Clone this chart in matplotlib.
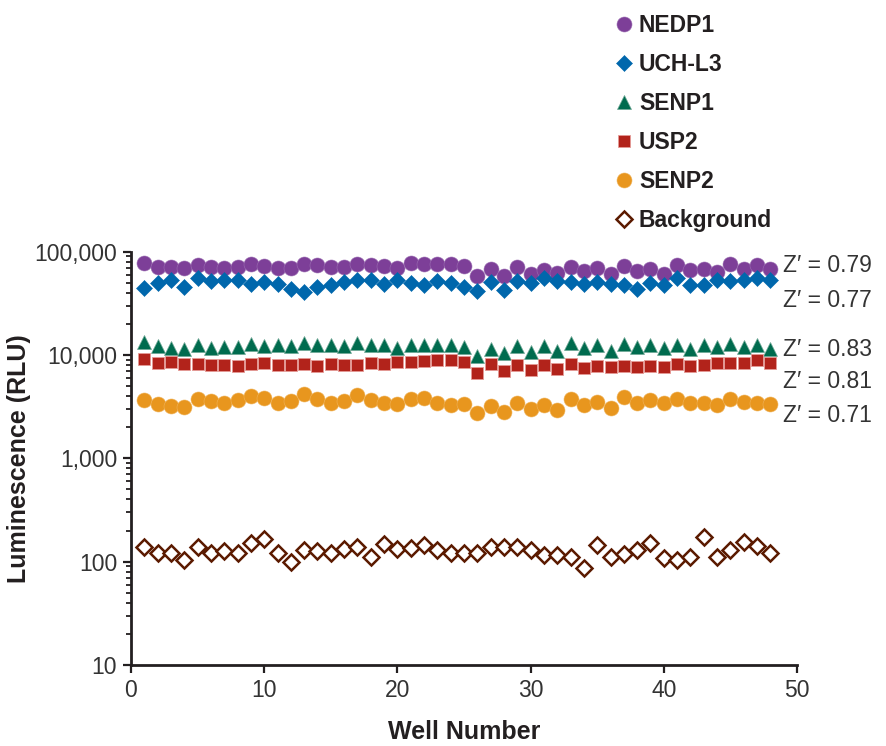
import matplotlib
matplotlib.use("Agg")
import matplotlib.pyplot as plt
from matplotlib import font_manager as fm
from matplotlib.ticker import FuncFormatter, LogLocator, NullFormatter

# ---------------- data ----------------
wells = list(range(1, 49))

nedp1 = [77800, 71100, 71100, 70100, 73800, 71100, 69500, 71100, 75500, 73400,
         70100, 69500, 75500, 74500, 71100, 71100, 75500, 73800, 72300, 70100,
         77800, 75500, 75500, 75500, 73000, 57800, 68700, 57800, 71100, 61300,
         67200, 62200, 71100, 65000, 70100, 61300, 72300, 65000, 68700, 61300,
         73800, 67200, 68700, 63600, 75500, 68700, 73800, 68700]
uchl3 = [44900, 49800, 53700, 45600, 56200, 52100, 53700, 53700, 48400, 50900,
         48400, 44000, 40800, 45600, 47300, 50900, 52900, 52900, 48400, 53700,
         49800, 47300, 52100, 49800, 45600, 41700, 50900, 43000, 52100, 49800,
         56200, 52100, 50900, 49000, 50900, 49000, 47300, 44000, 49800, 47300,
         56200, 47300, 47300, 52900, 52100, 53700, 56200, 52900]
senp1 = [13300, 12100, 11700, 11500, 12400, 11700, 11900, 11900, 12800, 12100,
         12600, 12100, 13000, 12600, 12400, 12100, 13000, 12400, 12400, 11700,
         12600, 12600, 12600, 12600, 12000, 9880, 11500, 10400, 12100, 10600,
         12100, 10900, 13000, 11700, 12600, 11000, 12800, 11900, 12400, 11700,
         12600, 11500, 12400, 11900, 12800, 11900, 12400, 11500]
usp2 = [9250, 8390, 8520, 8150, 8270, 8020, 8020, 7850, 8270, 8390,
        8020, 7960, 8270, 7850, 8270, 8020, 8020, 8390, 8270, 8520,
        8520, 8710, 8910, 8910, 8600, 6710, 8150, 7020, 8020, 7230,
        8020, 7340, 8150, 7450, 7800, 7680, 7800, 7680, 7910, 7680,
        8150, 7910, 8020, 8390, 8390, 8390, 8910, 8390]
senp2 = [3660, 3340, 3200, 3150, 3740, 3600, 3400, 3660, 3990, 3850,
         3470, 3600, 4180, 3740, 3470, 3600, 4080, 3710, 3400, 3340,
         3790, 3850, 3450, 3250, 3340, 2750, 3200, 2820, 3450, 3030,
         3270, 2970, 3790, 3270, 3520, 3100, 3930, 3450, 3710, 3450,
         3790, 3450, 3450, 3270, 3790, 3520, 3450, 3340]
background = [139, 122, 122, 104, 139, 120, 127, 120, 150, 164,
              120, 100, 129, 127, 122, 134, 139, 111, 148, 134,
              137, 145, 131, 120, 122, 122, 139, 139, 139, 131,
              116, 116, 110, 86, 145, 111, 118, 129, 150, 108,
              104, 110, 172, 110, 129, 156, 142, 120]

zprime_labels = ["Z\u2032 = 0.79", "Z\u2032 = 0.77", "Z\u2032 = 0.83", "Z\u2032 = 0.81", "Z\u2032 = 0.71"]

# bold narrow-ish font for labels / legend (no condensed face available)
names = {f.name for f in fm.fontManager.ttflist}
if "Liberation Sans Narrow" in names:
    cond = dict(family="Liberation Sans Narrow", weight="bold")
    lab_size, leg_size = 21, 19.5
else:
    cond = dict(family="Liberation Sans", weight="bold")
    lab_size, leg_size = 18, 16.5
light = "Liberation Sans"

fig = plt.figure(figsize=(8.87, 7.46), dpi=100)
ax = fig.add_axes([131 / 887, 1 - 665 / 746, 666 / 887, (665 - 251.7) / 746])

ax.plot(wells, nedp1, "o", ms=10.8, color="#7d3f98", mec="#9c6fb3", mew=0.4, ls="none", label="NEDP1")
ax.plot(wells, uchl3, "D", ms=8.6, color="#0067ac", mec="#0067ac", mew=0.4, ls="none", label="UCH-L3")
ax.plot(wells, senp1, "^", ms=10.5, color="#006b4e", mec="#6fa896", mew=0.5, ls="none", label="SENP1")
ax.plot(wells, usp2, "s", ms=9.0, color="#b2231b", mec="#e59a96", mew=0.6, ls="none", label="USP2")
ax.plot(wells, senp2, "o", ms=10.8, color="#e8961e", mec="#f0b45c", mew=0.4, ls="none", label="SENP2")
ax.plot(wells, background, "D", ms=8.6, mfc="white", mec="#5b1a00", mew=1.8, ls="none", label="Background")

ax.set_yscale("log")
ax.set_xlim(0, 50)
ax.set_ylim(10, 100000)
ax.set_xticks([0, 10, 20, 30, 40, 50])
ax.yaxis.set_major_locator(LogLocator(base=10, numticks=10))
ax.yaxis.set_minor_locator(LogLocator(base=10, subs=range(2, 10), numticks=10))
ax.yaxis.set_major_formatter(FuncFormatter(lambda v, p: f"{int(round(v)):,}"))
ax.yaxis.set_minor_formatter(NullFormatter())

for s in ["top", "right"]:
    ax.spines[s].set_visible(False)
for s in ["left", "bottom"]:
    ax.spines[s].set_linewidth(2.0)
    ax.spines[s].set_color("#231f20")

ax.tick_params(axis="both", which="major", direction="out", length=6, width=1.6,
               color="#231f20", labelsize=16.5, labelcolor="#333333", pad=4)
ax.tick_params(axis="y", which="minor", direction="out", length=3.5, width=1.3, color="#231f20")
for lab in ax.get_xticklabels() + ax.get_yticklabels():
    lab.set_family(light)

ax.set_xlabel("Well Number", fontsize=lab_size, color="#231f20", **cond)
ax.set_ylabel("Luminescence (RLU)", fontsize=lab_size, color="#231f20", **cond)
ax.xaxis.set_label_coords(0.5, (665 - 720) / 413.3)
ax.yaxis.set_label_coords((31 - 131) / 666, 0.5)

leg = fig.legend(loc="upper left", bbox_to_anchor=(616 / 887, 1 - 14 / 746), frameon=False,
                 numpoints=1, handlelength=0.7, handletextpad=0.3, labelspacing=0.7,
                 borderpad=0, borderaxespad=0, prop=dict(size=leg_size, **cond))
for t in leg.get_texts():
    t.set_color("#231f20")

# Z' values next to the right end of each series
z_y = [266, 300, 349, 382, 415]
for lab, yy in zip(zprime_labels, z_y):
    fig.text(783 / 887, 1 - yy / 746, lab, fontsize=16.5, color="#333333",
             family=light, va="center", ha="left")

fig.savefig("out.png", dpi=100)
